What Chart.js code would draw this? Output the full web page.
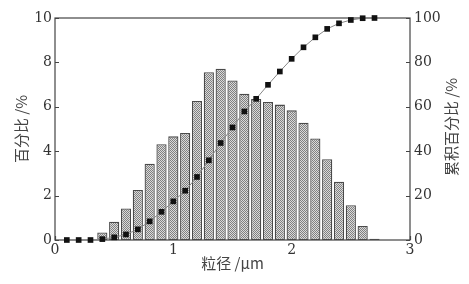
<!DOCTYPE html>
<html><head><meta charset="utf-8">
<script src="https://cdn.jsdelivr.net/npm/chart.js@4/dist/chart.umd.min.js"></script>
<style>html,body{margin:0;padding:0;background:#fff}#wrap{width:469px;height:284px}</style>
</head><body><div id="wrap"><canvas id="c" width="469" height="284"></canvas></div>
<script>
// ---- data ----
const barSizes = [0.4,0.5,0.6,0.7,0.8,0.9,1.0,1.1,1.2,1.3,1.4,1.5,1.6,1.7,1.8,1.9,2.0,2.1,2.2,2.3,2.4,2.5,2.6,2.7];
const barPercent = [0.34,0.82,1.42,2.25,3.44,4.31,4.67,4.82,6.26,7.56,7.71,7.19,6.59,6.35,6.22,6.10,5.84,5.28,4.57,3.64,2.62,1.57,0.63,0.06];
const cumSizes = [0.1,0.2,0.3,0.4,0.5,0.6,0.7,0.8,0.9,1.0,1.1,1.2,1.3,1.4,1.5,1.6,1.7,1.8,1.9,2.0,2.1,2.2,2.3,2.4,2.5,2.6,2.7];
const cumPercent = [0,0,0,0.4,1.2,2.5,4.8,8.4,12.7,17.4,22.2,28.4,35.9,43.7,50.7,57.9,63.6,69.9,75.9,81.6,86.8,91.3,95.1,97.6,99.1,99.9,100];
const xTicks = [0,1,2,3];
const leftTicks = [0,2,4,6,8,10];
const rightTicks = [0,20,40,60,80,100];
const xTitle = '粒径 /μm';
const leftTitle = '百分比 /%';
const rightTitle = '累积百分比 /%';

// hatch pattern for bars
function makePattern(){
  const p = document.createElement('canvas'); p.width = 2; p.height = 2;
  const g = p.getContext('2d');
  g.fillStyle = '#dadada'; g.fillRect(0,0,2,2);
  g.fillStyle = '#808080'; g.fillRect(0,0,1,1); g.fillRect(1,1,1,1);
  return document.getElementById('c').getContext('2d').createPattern(p,'repeat');
}

const tickFont = {family:'"DejaVu Serif"', size:14};
const titleFont = {family:'"Noto Sans CJK SC"', size:15};

const decor = {
  id:'decor',
  beforeDatasetsDraw(chart){
    const {ctx, chartArea:a, scales} = chart;
    ctx.save();
    ctx.strokeStyle = '#444'; ctx.lineWidth = 1.2;
    ctx.strokeRect(a.left, a.top, a.right - a.left, a.bottom - a.top);
    const L = 4;
    ctx.beginPath();
    leftTicks.forEach(v => { const p = Math.round(scales.y.getPixelForValue(v)) + 0.5; ctx.moveTo(a.left, p); ctx.lineTo(a.left + L, p); });
    rightTicks.forEach(v => { const p = Math.round(scales.y2.getPixelForValue(v)) + 0.5; ctx.moveTo(a.right, p); ctx.lineTo(a.right - L, p); });
    xTicks.forEach(v => { const p = Math.round(scales.x.getPixelForValue(v)) + 0.5; ctx.moveTo(p, a.bottom); ctx.lineTo(p, a.bottom - L); });
    ctx.stroke();
    ctx.restore();
  },
  afterDraw(chart){
    const {ctx, chartArea:a} = chart;
    ctx.save();
    ctx.fillStyle = '#444';
    ctx.font = titleFont.size + 'px ' + titleFont.family;
    ctx.textAlign = 'center'; ctx.textBaseline = 'middle';
    ctx.translate(451, (a.top + a.bottom) / 2 - 2);
    ctx.rotate(-Math.PI / 2);
    ctx.fillText(rightTitle, 0, 0);
    ctx.restore();
  }
};

new Chart(document.getElementById('c'), {
  type: 'bar',
  data: {
    datasets: [
      {
        type: 'line',
        data: cumSizes.map((x,i) => ({x, y: cumPercent[i]})),
        yAxisID: 'y2',
        order: 0,
        borderColor: '#888',
        borderWidth: 1,
        pointStyle: 'rect',
        pointRadius: 4,
        pointBackgroundColor: '#111',
        pointBorderColor: '#111',
        pointBorderWidth: 0,
        tension: 0,
        clip: false
      },
      {
        type: 'bar',
        data: barSizes.map((x,i) => ({x, y: barPercent[i]})),
        yAxisID: 'y',
        order: 1,
        backgroundColor: makePattern(),
        borderColor: '#4a4a4a',
        borderWidth: 1.3,
        borderSkipped: false,
        categoryPercentage: 1,
        barPercentage: 0.86
      }
    ]
  },
  options: {
    responsive: false,
    animation: false,
    devicePixelRatio: 1,
    layout: {padding: {top: 18, left: 0, right: 0, bottom: 0}},
    plugins: {legend: {display: false}, tooltip: {enabled: false}},
    scales: {
      x: {
        type: 'linear', min: 0, max: 3, offset: false,
        grid: {display: false, drawTicks: false},
        border: {display: false},
        afterBuildTicks: s => { s.ticks = xTicks.map(v => ({value: v})); },
        afterFit: s => { s.height = 44; },
        ticks: {font: tickFont, color: '#333', padding: 2, maxRotation: 0, autoSkip: false},
        title: {display: true, text: xTitle, font: titleFont, color: '#444', padding: {top: 12, bottom: 12}}
      },
      y: {
        position: 'left', min: 0, max: 10,
        grid: {display: false, drawTicks: false},
        border: {display: false},
        afterBuildTicks: s => { s.ticks = leftTicks.map(v => ({value: v})); },
        afterFit: s => { s.width = 55; },
        ticks: {font: tickFont, color: '#333', padding: 3},
        title: {display: true, text: leftTitle, font: titleFont, color: '#444', padding: {top: 12, bottom: 12}}
      },
      y2: {
        position: 'right', min: 0, max: 100,
        grid: {display: false, drawTicks: false},
        border: {display: false},
        afterBuildTicks: s => { s.ticks = rightTicks.map(v => ({value: v})); },
        afterFit: s => { s.width = 59; },
        ticks: {font: tickFont, color: '#333', padding: 4}
      }
    }
  },
  plugins: [decor]
});
</script>
</body></html>
